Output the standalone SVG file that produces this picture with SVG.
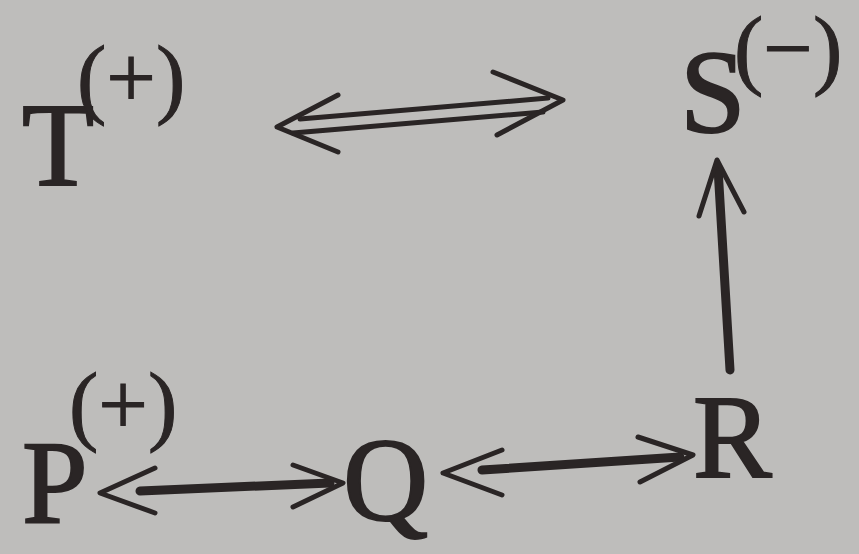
<svg xmlns="http://www.w3.org/2000/svg" width="859" height="554" viewBox="0 0 859 554">
<defs>
<style>
.lbl{font-family:"Liberation Serif","Times New Roman",serif;fill:#2a2525;stroke:#2a2525;stroke-width:2;font-size:118px}
.sup{font-family:"Liberation Serif","Times New Roman",serif;fill:#2a2525;stroke:#2a2525;stroke-width:1;font-size:88px}
.thin{fill:none;stroke:#2a2525;stroke-width:5;stroke-linecap:round;stroke-linejoin:round}
.shaft{fill:none;stroke:#2a2525;stroke-width:9;stroke-linecap:round}
</style>
</defs>
<rect x="0" y="0" width="859" height="554" fill="#bebdbb"/>
<g id="connectors">
  <path class="thin" d="M300,119 L548,98"/>
  <path class="thin" d="M293,133 L543,112"/>
  <path class="thin" d="M338,95 L277,127 L338,152"/>
  <path class="thin" d="M493,72 L563,100 L497,135"/>
  <path class="shaft" d="M730,370 L718,168"/>
  <path class="thin" d="M699,216 L717,160 L744,212"/>
  <path class="shaft" d="M140,491 L330,483"/>
  <path class="thin" d="M155,468 L100,493 L155,513"/>
  <path class="thin" d="M293,465 L343,483 L293,507"/>
  <path class="shaft" d="M482,470 L680,457"/>
  <path class="thin" d="M502,450 L443,473 L502,495"/>
  <path class="thin" d="M638,437 L693,455 L640,482"/>
</g>
<g id="node-T">
  <text class="lbl" x="22" y="185">T</text>
  <text class="sup" x="77" y="107">(+)</text>
</g>
<g id="node-S">
  <text class="lbl" x="680" y="132">S</text>
  <text class="sup" x="734" y="78">(−)</text>
</g>
<g id="node-P">
  <text class="lbl" x="22" y="523">P</text>
  <text class="sup" x="69" y="434">(+)</text>
</g>
<g id="node-Q">
  <text class="lbl" x="343" y="520">Q</text>
</g>
<g id="node-R">
  <text class="lbl" x="693" y="477">R</text>
</g>
</svg>
